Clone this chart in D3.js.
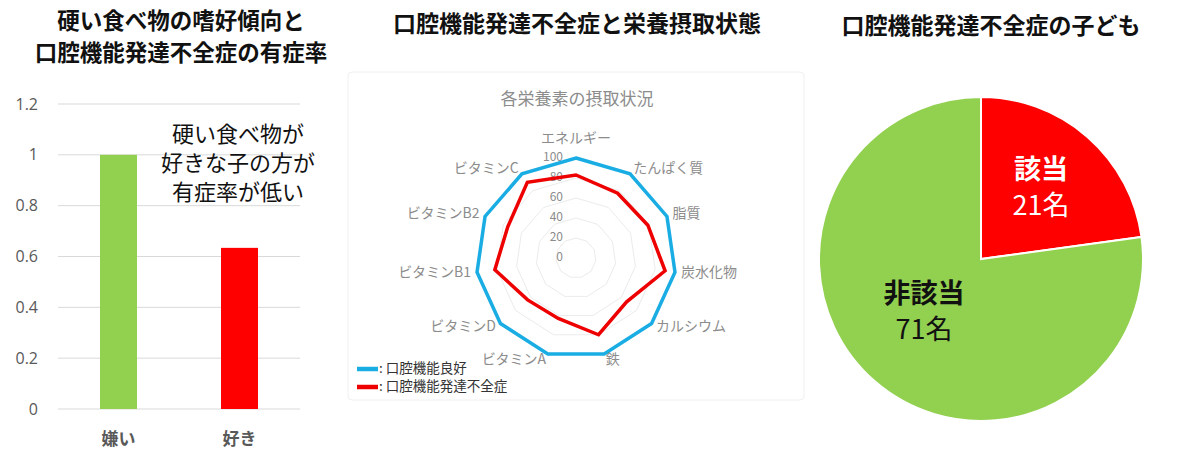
<!DOCTYPE html>
<html>
<head>
<meta charset="utf-8">
<script src="https://cdn.jsdelivr.net/npm/d3@7"></script>
<style>
  body { margin: 0; background: #fff; }
  svg { display: block; font-family: "Noto Sans CJK JP", "Noto Sans", sans-serif; }
</style>
</head>
<body>
<div id="chart"></div>
<script>
// bar chart data
const barCategories = ["嫌い", "好き"];
const barValues = [1.0, 0.634];
const barTicks = [0, 0.2, 0.4, 0.6, 0.8, 1, 1.2];
const barColors = ["#92D050", "#FF0000"];

// radar data
const radarAxes = ["エネルギー", "たんぱく質", "脂質", "炭水化物", "カルシウム", "鉄",
    "ビタミンA", "ビタミンD", "ビタミンB1", "ビタミンB2", "ビタミンC"];
const radarGood = [100, 100, 100, 100, 100, 100, 100, 100, 100, 100, 100];
const radarPoor = [83, 77, 79, 90, 67, 80, 63, 64, 82, 75, 90];
const radarTicks = [0, 20, 40, 60, 80, 100];
const radarSeries = ["口腔機能良好", "口腔機能発達不全症"];

// pie data
const pieLabels = ["該当", "非該当"];
const pieValues = [21, 71];

const W = 1200, H = 474;
const svg = d3.select("#chart").append("svg")
    .attr("width", W)
    .attr("height", H);

// ---------- bar chart ----------
const bar = svg.append("g");

const barTitle = ["硬い食べ物の嗜好傾向と", "口腔機能発達不全症の有症率"];
bar.append("g")
    .selectAll("text")
    .data(barTitle)
    .join("text")
    .attr("x", 181)
    .attr("y", (d, i) => 23 + i * 32)
    .attr("text-anchor", "middle").attr("dominant-baseline", "middle")
    .attr("font-size", 22.5).attr("font-weight", "bold").attr("fill", "#111")
    .text(d => d);

const y = d3.scaleLinear().domain([0, 1.2]).range([409, 104]);
const x = d3.scaleBand().domain(barCategories).range([58, 300]);

// gridlines
bar.append("g")
    .selectAll("line")
    .data(barTicks)
    .join("line")
    .attr("x1", 58).attr("x2", 300)
    .attr("y1", d => y(d)).attr("y2", d => y(d))
    .attr("stroke", "#d9d9d9").attr("stroke-width", 1);

// y axis
const yAxis = bar.append("g")
    .attr("transform", "translate(38,0)")
    .call(d3.axisLeft(y).tickValues(barTicks).tickSize(0).tickPadding(0).tickFormat(d => d));
yAxis.select(".domain").remove();
yAxis.selectAll("text")
    .attr("font-size", 16).attr("fill", "#595959")
    .attr("font-family", "'Open Sans', 'Noto Sans', sans-serif");

// bars
bar.append("g")
    .selectAll("rect")
    .data(barValues)
    .join("rect")
    .attr("x", (d, i) => x(barCategories[i]) + x.bandwidth() / 2 - 18.5)
    .attr("width", 37)
    .attr("y", d => y(d))
    .attr("height", d => y(0) - y(d))
    .attr("fill", (d, i) => barColors[i]);

// x labels
const xAxis = bar.append("g")
    .attr("transform", "translate(0,433)")
    .call(d3.axisBottom(x).tickSize(0).tickPadding(0));
xAxis.select(".domain").remove();
xAxis.selectAll("text")
    .attr("font-size", 17).attr("font-weight", "bold").attr("fill", "#595959")
    .attr("font-family", "'Noto Sans CJK JP', sans-serif");

// annotation
const note = ["硬い食べ物が", "好きな子の方が", "有症率が低い"];
bar.append("g")
    .selectAll("text")
    .data(note)
    .join("text")
    .attr("x", 238)
    .attr("y", (d, i) => 136 + i * 29)
    .attr("text-anchor", "middle").attr("dominant-baseline", "middle")
    .attr("font-size", 22).attr("fill", "#111")
    .text(d => d);

// ---------- radar chart ----------
const radar = svg.append("g");
const cx = 576, cy = 258;

radar.append("text")
    .attr("x", 577).attr("y", 26)
    .attr("text-anchor", "middle").attr("dominant-baseline", "middle")
    .attr("font-size", 23).attr("font-weight", "bold").attr("fill", "#111")
    .text("口腔機能発達不全症と栄養摂取状態");

// chart frame
radar.append("rect")
    .attr("x", 348).attr("y", 72)
    .attr("width", 456).attr("height", 328)
    .attr("rx", 4)
    .attr("fill", "none").attr("stroke", "#f0f0f0").attr("stroke-width", 1);

radar.append("text")
    .attr("x", 577).attr("y", 100)
    .attr("text-anchor", "middle").attr("dominant-baseline", "middle")
    .attr("font-size", 17).attr("fill", "#8c8c8c")
    .text("各栄養素の摂取状況");

const r = d3.scaleLinear().domain([0, 100]).range([0, 100]);
const angle = d3.scaleLinear().domain([0, radarAxes.length]).range([0, 2 * Math.PI]);

const radarLine = d3.lineRadial()
    .angle((d, i) => angle(i))
    .radius(d => r(d))
    .curve(d3.curveLinearClosed);

const rg = radar.append("g").attr("transform", `translate(${cx},${cy})`);

// grid rings
rg.selectAll(".ring")
    .data(radarTicks.filter(t => t > 0))
    .join("path")
    .attr("class", "ring")
    .attr("d", t => radarLine(radarAxes.map(() => t)))
    .attr("fill", "none").attr("stroke", "#ebebeb").attr("stroke-width", 1);

// tick labels
rg.selectAll(".tick-label")
    .data(radarTicks)
    .join("text")
    .attr("class", "tick-label")
    .attr("x", -13)
    .attr("y", t => -r(t))
    .attr("text-anchor", "end").attr("dominant-baseline", "middle")
    .attr("font-size", 12).attr("fill", "#8c8c8c")
    .text(t => t);

// series
rg.append("path")
    .attr("d", radarLine(radarGood))
    .attr("fill", "none").attr("stroke", "#1AADE4").attr("stroke-width", 3.5)
    .attr("stroke-linejoin", "miter");
rg.append("path")
    .attr("d", radarLine(radarPoor))
    .attr("fill", "none").attr("stroke", "#EE0000").attr("stroke-width", 3.5)
    .attr("stroke-linejoin", "miter");

// axis labels
rg.selectAll(".axis-label")
    .data(radarAxes)
    .join("text")
    .attr("class", "axis-label")
    .attr("x", (d, i) => 106 * Math.sin(angle(i)))
    .attr("y", (d, i) => {
        const s = Math.sin(angle(i)), c = Math.cos(angle(i));
        return -106 * c - (Math.abs(s) < 0.1 ? 13 * Math.sign(c) : 0);
    })
    .attr("text-anchor", (d, i) => {
        const s = Math.sin(angle(i));
        return s > 0.1 ? "start" : s < -0.1 ? "end" : "middle";
    })
    .attr("dominant-baseline", "middle")
    .attr("font-size", 14).attr("fill", "#8c8c8c")
    .text(d => d);

// legend
const legendColors = ["#1AADE4", "#EE0000"];
const lg = radar.append("g")
    .selectAll("g")
    .data(radarSeries)
    .join("g")
    .attr("transform", (d, i) => `translate(357,${369 + i * 18})`);
lg.append("line")
    .attr("x1", 0).attr("x2", 21)
    .attr("stroke", (d, i) => legendColors[i]).attr("stroke-width", 4.5);
lg.append("text")
    .attr("x", 22)
    .attr("dominant-baseline", "middle")
    .attr("font-size", 13.5).attr("fill", "#333")
    .text(d => ": " + d);

// ---------- pie chart ----------
const pieG = svg.append("g");

pieG.append("text")
    .attr("x", 991).attr("y", 28)
    .attr("text-anchor", "middle").attr("dominant-baseline", "middle")
    .attr("font-size", 23).attr("font-weight", "bold").attr("fill", "#111")
    .text("口腔機能発達不全症の子ども");

const pcx = 981, pcy = 259, pr = 162;
const pie = d3.pie().sort(null).value(d => d);
const arcs = pie(pieValues);
const arc = d3.arc().innerRadius(0).outerRadius(pr);
const pieColors = ["#FF0000", "#92D050"];

const pg = pieG.append("g").attr("transform", `translate(${pcx},${pcy})`);
pg.selectAll("path")
    .data(arcs)
    .join("path")
    .attr("d", arc)
    .attr("fill", (d, i) => pieColors[i])
    .attr("stroke", "#fff").attr("stroke-width", 2);

// slice labels
const labelPos = [[60, -69], [-57, 55]];
const labelColors = ["#fff", "#111"];
const lbl = pg.selectAll(".slice-label")
    .data(arcs)
    .join("g")
    .attr("class", "slice-label")
    .attr("transform", (d, i) => `translate(${labelPos[i][0]},${labelPos[i][1]})`);
lbl.append("text")
    .attr("text-anchor", "middle").attr("dominant-baseline", "middle")
    .attr("y", -18)
    .attr("font-size", 27).attr("font-weight", "bold")
    .attr("fill", (d, i) => labelColors[i])
    .text((d, i) => pieLabels[i]);
lbl.append("text")
    .attr("text-anchor", "middle").attr("dominant-baseline", "middle")
    .attr("y", 18)
    .attr("font-size", 27)
    .attr("fill", (d, i) => labelColors[i])
    .text(d => d.data + "名");
</script>
</body>
</html>
